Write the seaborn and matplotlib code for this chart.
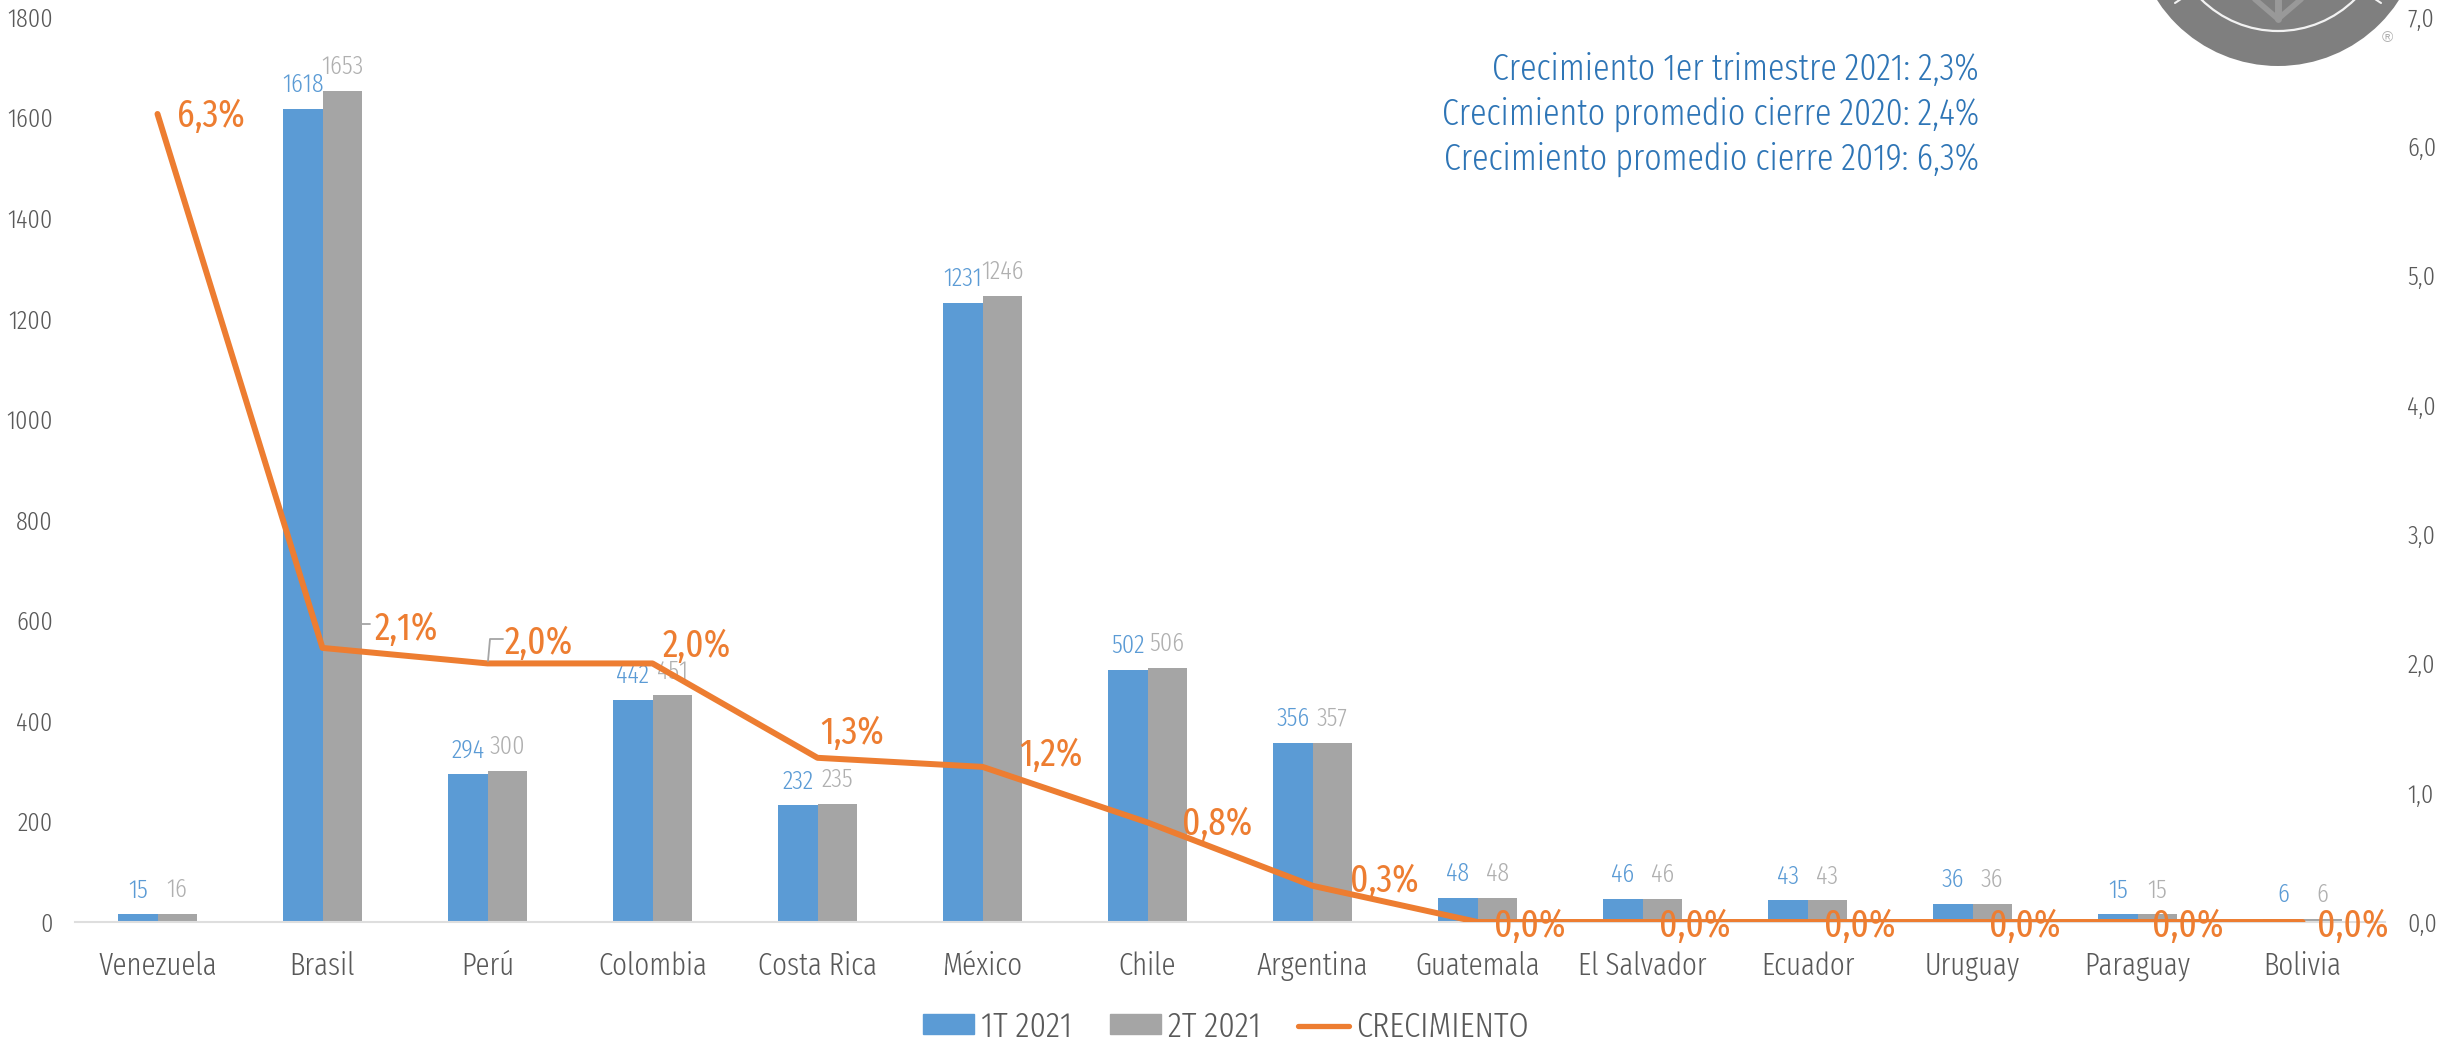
import matplotlib
matplotlib.use("Agg")
import matplotlib.pyplot as plt
from matplotlib.patches import Circle, Patch
from matplotlib.lines import Line2D
import seaborn as sns
import pandas as pd

paises = ["Venezuela", "Brasil", "Perú", "Colombia", "Costa Rica", "México", "Chile", "Argentina",
          "Guatemala", "El Salvador", "Ecuador", "Uruguay", "Paraguay", "Bolivia"]
t1 = [15, 1618, 294, 442, 232, 1231, 502, 356, 48, 46, 43, 36, 15, 6]
t2 = [16, 1653, 300, 451, 235, 1246, 506, 357, 48, 46, 43, 36, 15, 6]
crecimiento = [6.25, 2.12, 2.0, 2.0, 1.27, 1.2, 0.77, 0.28, 0, 0, 0, 0, 0, 0]
crec_labels = ["6,3%", "2,1%", "2,0%", "2,0%", "1,3%", "1,2%", "0,8%", "0,3%",
               "0,0%", "0,0%", "0,0%", "0,0%", "0,0%", "0,0%"]
notas = ["Crecimiento 1er trimestre 2021: 2,3%", "Crecimiento promedio cierre 2020: 2,4%",
         "Crecimiento promedio cierre 2019: 6,3%"]

BLUE, GREY, ORANGE = "#5b9bd5", "#a5a5a5", "#ed7d31"
W, H = 2445, 1042
sns.set_theme(style="white")
plt.rcParams["font.family"] = ["Fira Sans Extra Condensed", "Liberation Sans", "DejaVu Sans"]
plt.rcParams["font.weight"] = 300

df = pd.DataFrame({"pais": paises * 2, "serie": ["1T 2021"] * 14 + ["2T 2021"] * 14, "v": t1 + t2})
fig = plt.figure(figsize=(W / 100, H / 100), dpi=100, facecolor="white")
ax = fig.add_axes([75 / W, 1 - 922 / H, 2310 / W, 905 / H])
sns.barplot(data=df, x="pais", y="v", hue="serie", palette=[BLUE, GREY], width=0.475, gap=0,
            saturation=1, legend=False, ax=ax, errorbar=None, linewidth=0)
ax.set_xlim(-0.5, 13.5)
ax.set_ylim(0, 1800)
ax.set_xlabel("")
ax.set_ylabel("")
ax.set_yticks(range(0, 1801, 200))
for s in ["top", "right", "left"]:
    ax.spines[s].set_visible(False)
ax.spines["bottom"].set_color("#dedede")
ax.spines["bottom"].set_linewidth(1.5)
ax.tick_params(axis="x", length=0, labelsize=22.5, labelcolor="#595959", pad=21)
ax.tick_params(axis="y", length=0, labelsize=19, labelcolor="#595959", pad=16)

ax2 = ax.twinx()
ax2.set_ylim(0, 7)
ax2.set_yticks(range(8))
ax2.set_yticklabels([f"{i},0" for i in range(8)])
ax2.tick_params(axis="y", length=0, labelsize=19, labelcolor="#595959", pad=16)
ax2.grid(False)
for s in ax2.spines.values():
    s.set_visible(False)
sns.lineplot(x=list(range(14)), y=crecimiento, color=ORANGE, linewidth=4.3, ax=ax2, legend=False,
             solid_joinstyle="round", solid_capstyle="round")

# value labels centred over each bar
for i, (a, b) in enumerate(zip(t1, t2)):
    ax.annotate(str(a), (i - 0.119, a), xytext=(0, 24), textcoords="offset pixels", ha="center",
                va="center", fontsize=19, color=BLUE)
    ax.annotate(str(b), (i + 0.119, b), xytext=(0, 24), textcoords="offset pixels", ha="center",
                va="center", fontsize=19, color="#b0b0b0")

# growth labels: offsets in pixels from each line point
offs = [(53, -2), (84, 19), (51, 20), (44, 17), (35, 25), (68, 12), (70, -2), (72, 5),
        (52, -4), (52, -4), (52, -4), (52, -4), (50, -4), (50, -4)]
for i, (c, lab, o) in enumerate(zip(crecimiento, crec_labels, offs)):
    ax2.annotate(lab, (i, c), xytext=o, textcoords="offset pixels", ha="center", va="center",
                 fontsize=27.5, fontweight=400, color=ORANGE, zorder=6)

# logo and grey leader lines, in pixel coordinates
logo = fig.add_axes([0, 0, 1, 1], zorder=5)
logo.set_xlim(0, W)
logo.set_ylim(H, 0)
logo.axis("off")
logo.patch.set_alpha(0)
logo.plot([362, 370], [624, 624], color=GREY, lw=1.3)
logo.plot([488, 490, 503], [661, 639, 639], color=GREY, lw=1.3)
logo.add_patch(Circle((2278, -78), 144, color="#7f7f7f", lw=0))
logo.add_patch(Circle((2278, -78), 109, fc="none", ec="#f2f2f2", lw=1.6))
logo.plot([2278, 2278], [-5, 19], color="#999999", lw=5, solid_capstyle="round")
logo.plot([2278, 2250], [19, -5], color="#999999", lw=4)
logo.plot([2278, 2306], [19, -5], color="#999999", lw=4)
logo.plot([2175, 2184], [3, -3], color="#f2f2f2", lw=1.5)
logo.plot([2381, 2372], [3, -3], color="#f2f2f2", lw=1.5)
logo.text(2387, 38, "®", fontsize=11, color="#b0b0b0", ha="center", va="center",
          family=["Liberation Sans", "DejaVu Sans"])

for t, y in zip(notas, [70, 114, 159]):
    fig.text(1979 / W, 1 - y / H, t, ha="right", va="center", fontsize=26.5, color="#2e75b6")

handles = [Patch(color=BLUE, label="1T 2021"), Patch(color=GREY, label="2T 2021"),
           Line2D([], [], color=ORANGE, lw=3.8, label="CRECIMIENTO")]
fig.legend(handles=handles, loc="center", bbox_to_anchor=(1226 / W, 1 - 1027 / H), ncol=3, frameon=False,
           fontsize=25.5, labelcolor="#595959", handlelength=1.45, handleheight=0.5,
           handletextpad=0.2, columnspacing=1.05)
fig.savefig("out.png", dpi=100)
